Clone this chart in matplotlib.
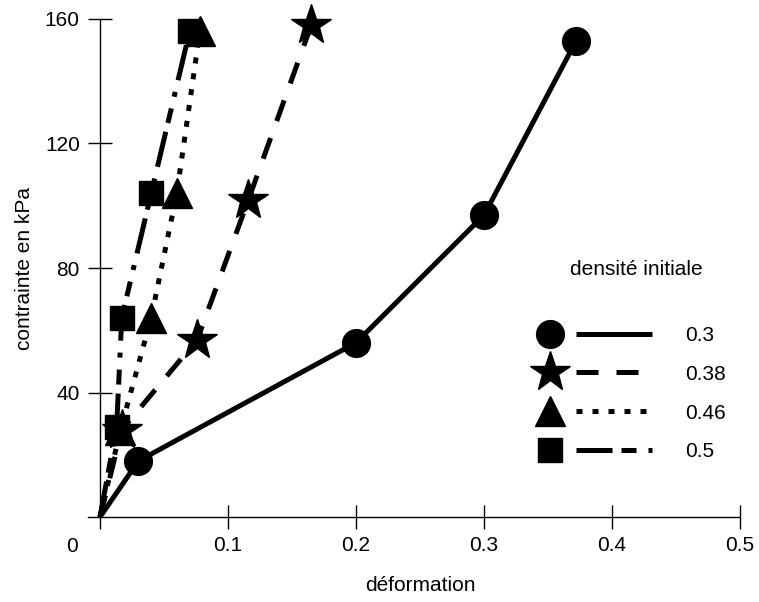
import matplotlib
matplotlib.use("Agg")
import matplotlib.pyplot as plt
from matplotlib.lines import Line2D
from matplotlib.legend_handler import HandlerBase

plt.rcParams['font.family'] = ['Liberation Sans', 'DejaVu Sans']

# densite initiale 0.3 (cercles, trait plein)
x_03 = [0, 0.030, 0.200, 0.300, 0.372]
y_03 = [0, 18, 56, 97, 153]
# 0.38 (etoiles, tirets)
x_038 = [0, 0.017, 0.076, 0.116, 0.165]
y_038 = [0, 28, 57, 102, 158]
# 0.46 (triangles, pointilles)
x_046 = [0, 0.016, 0.040, 0.060, 0.078]
y_046 = [0, 28, 64, 104, 156]
# 0.5 (carres, tiret-point)
x_05 = [0, 0.013, 0.017, 0.040, 0.070]
y_05 = [0, 29, 64, 104, 156]

labels = ['0.3', '0.38', '0.46', '0.5']
xticks = [0, 0.1, 0.2, 0.3, 0.4, 0.5]
yticks = [40, 80, 120, 160]


class MarkerThenLine(HandlerBase):
    # marker on the left, line segment on the right (like the original key)
    def create_artists(self, legend, orig_handle, xdescent, ydescent,
                       width, height, fontsize, trans):
        y = height / 2 - ydescent
        x0 = -xdescent
        ln = Line2D([x0 + 0.35 * width, x0 + width], [y, y])
        ln.update_from(orig_handle)
        ln.set_marker('None')
        ln.set_transform(trans)
        mk = Line2D([x0 + 0.13 * width], [y])
        mk.update_from(orig_handle)
        mk.set_linestyle('None')
        mk.set_markevery(None)
        mk.set_transform(trans)
        return [ln, mk]


fig = plt.figure(figsize=(7.59, 6.02), dpi=100)
ax = fig.add_axes([100 / 759, 1 - 517 / 602, 640 / 759, 498 / 602])

lw = 3.6
skip0 = slice(1, None)  # no marker at the origin
l1, = ax.plot(x_03, y_03, color='black', lw=lw, marker='o', ms=20, markevery=skip0,
              solid_capstyle='butt', clip_on=False, zorder=3)
l3, = ax.plot(x_046, y_046, color='black', lw=lw, marker='^', ms=21, markevery=skip0,
              linestyle=(0, (1.2, 2.0)), dash_capstyle='butt', clip_on=False, zorder=3)
l4, = ax.plot(x_05, y_05, color='black', lw=lw, marker='s', ms=17, markevery=skip0,
              linestyle=(0, (7.2, 1.8, 3.0, 2.4, 1.0, 2.4)), dash_capstyle='butt',
              clip_on=False, zorder=4)
l2, = ax.plot(x_038, y_038, color='black', lw=lw, marker='*', ms=30, markevery=skip0,
              linestyle=(0, (4.4, 3.6)), dash_capstyle='butt', clip_on=False, zorder=5)

ax.set_xlim(0, 0.5)
ax.set_ylim(0, 160)

for s in ['top', 'right']:
    ax.spines[s].set_visible(False)
ax.spines['left'].set_linewidth(1.0)
ax.spines['bottom'].set_linewidth(1.0)
ax.spines['bottom'].set_bounds(-0.0094, 0.5)

ax.set_xticks(xticks)
ax.set_xticklabels([''] + [f'{v:g}' for v in xticks[1:]])
ax.set_yticks(yticks)
ax.set_yticklabels([str(v) for v in yticks])
ax.tick_params(direction='inout', length=17, width=1.0, labelsize=15)
ax.tick_params(axis='x', pad=5)
ax.tick_params(axis='y', pad=6)
ax.annotate('0', xy=(0, 0), xytext=(-20, -21), textcoords='offset points',
            ha='center', va='center', fontsize=15)

ax.set_xlabel('déformation', fontsize=15, labelpad=15)
ax.set_ylabel('contrainte en kPa', fontsize=15, labelpad=8)

fig.text(570 / 759, 1 - 270 / 602, 'densité initiale', fontsize=15,
         ha='left', va='center')
ax.legend([l1, l2, l3, l4], labels, handler_map={Line2D: MarkerThenLine()},
          loc='upper left', bbox_to_anchor=(535 / 759, 1 - 326 / 602),
          bbox_transform=fig.transFigure, frameon=False, fontsize=15,
          handlelength=5.6, handletextpad=1.6, labelspacing=0.95,
          borderpad=0, borderaxespad=0)

fig.savefig('out.png', dpi=100)
